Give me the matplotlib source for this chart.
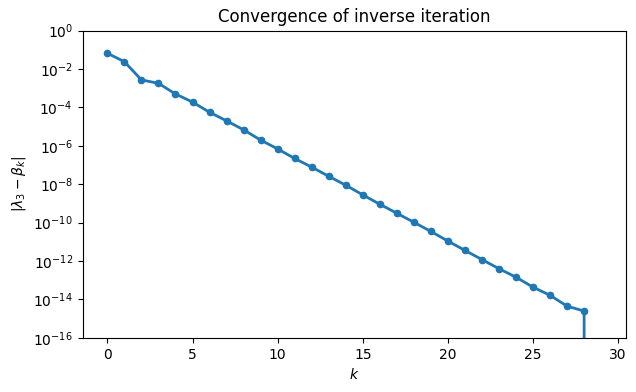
import numpy as np
import matplotlib.pyplot as plt

# iteration index and error |lambda_3 - beta_k|
k = list(range(30))
err = [6.6e-2, 2.4e-2, 2.7e-3, 1.8e-3, 5.0e-4, 1.9e-4, 5.6e-5, 2.0e-5,
       6.8e-6, 2.0e-6, 6.9e-7, 2.2e-7, 7.8e-8, 2.6e-8, 8.9e-9, 2.8e-9,
       9.1e-10, 3.1e-10, 1.05e-10, 3.5e-11, 1.1e-11, 3.6e-12, 1.2e-12,
       4.0e-13, 1.45e-13, 4.4e-14, 1.65e-14, 4.5e-15, 2.5e-15, 0.0]

fig, ax = plt.subplots(figsize=(6.36, 3.92), dpi=100)
ax.semilogy(k, err, 'o-', lw=2, ms=4.5)
ax.set_ylim(1e-16, 1e0)
ax.set_xlabel('$k$')
ax.set_ylabel(r'$|\lambda_3 - \beta_k|$')
ax.set_title('Convergence of inverse iteration')
plt.subplots_adjust(left=0.130, right=0.984, top=0.922, bottom=0.138)
plt.savefig('out.png', dpi=100)
